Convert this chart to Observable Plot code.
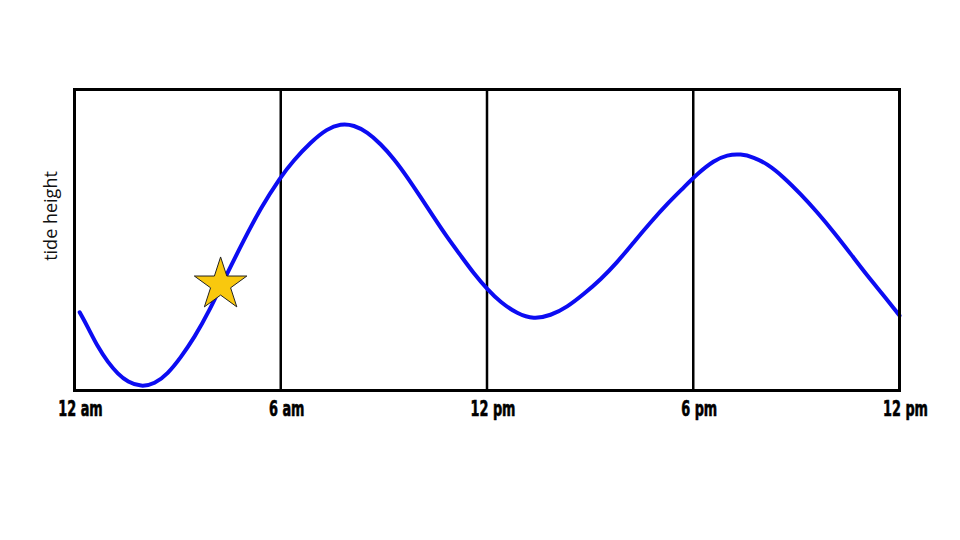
<!DOCTYPE html>
<html>
<head>
<meta charset="utf-8">
<script src="https://cdn.jsdelivr.net/npm/d3@7"></script>
<script src="https://cdn.jsdelivr.net/npm/@observablehq/plot@0.6"></script>
<style>
  html, body { margin: 0; padding: 0; background: #fff; }
  #chart { width: 960px; height: 540px; }
</style>
</head>
<body>
<div id="chart"></div>
<script>
// Tide curve: hour of day (0–24) and relative tide height
const hours = [0.15, 0.39, 0.68, 0.97, 1.26, 1.55, 1.94, 2.33, 2.71, 3.10, 3.49, 3.88, 4.44, 4.92, 5.41, 5.99, 6.37, 6.87, 7.35, 7.74, 8.13, 8.52, 8.90, 9.29, 9.68, 10.07, 10.45, 10.84, 11.23, 11.62, 12.01, 12.39, 12.88, 13.36, 13.85, 14.33, 14.82, 15.30, 15.79, 16.27, 16.76, 17.24, 17.73, 18.12, 18.60, 18.99, 19.38, 19.76, 20.15, 20.63, 21.12, 21.61, 22.09, 22.58, 23.06, 23.54, 24.0];
const heights = [2.60, 2.10, 1.44, 0.94, 0.55, 0.28, 0.12, 0.22, 0.55, 1.11, 1.77, 2.55, 3.89, 4.98, 6.05, 7.09, 7.64, 8.25, 8.70, 8.86, 8.82, 8.58, 8.20, 7.70, 7.09, 6.42, 5.76, 5.09, 4.49, 3.88, 3.36, 2.93, 2.55, 2.37, 2.49, 2.77, 3.21, 3.68, 4.26, 4.93, 5.59, 6.20, 6.75, 7.20, 7.64, 7.83, 7.86, 7.75, 7.53, 7.09, 6.53, 5.92, 5.26, 4.54, 3.82, 3.16, 2.49];

// Star marker
const starHour = [4.25];
const starHeight = [3.52];

// Ticks
const tickHours = [0, 6, 12, 18, 24];
const tickLabels = ["12 am", "6 am", "12 pm", "6 pm", "12 pm"];
const gridHours = [6, 12, 18];

const yLabel = "tide height";

const tide = hours.map((h, i) => ({hour: h, height: heights[i]}));
const star = starHour.map((h, i) => ({hour: h, height: starHeight[i]}));

const chart = Plot.plot({
  width: 960,
  height: 540,
  marginLeft: 74,
  marginRight: 61,
  marginTop: 89,
  marginBottom: 150,
  style: {background: "#fff"},
  x: {domain: [0, 24]},
  y: {domain: [0, 10]},
  marks: [
    Plot.ruleX(gridHours, {stroke: "#000", strokeWidth: 2.5}),
    Plot.line(tide, {x: "hour", y: "height", curve: "basis", stroke: "#0c0cf2", strokeWidth: 4}),
    Plot.dot(star, {x: "hour", y: "height", symbol: "star", r: 16.5, fill: "#f9c80e", stroke: "#222", strokeWidth: 1}),
    Plot.frame({stroke: "#000", strokeWidth: 3}),
    Plot.axisX({
      ticks: tickHours,
      tickFormat: (d) => tickLabels[tickHours.indexOf(d)],
      tickSize: 0,
      tickPadding: 11,
      dx: 6,
      fontSize: 21,
      fontWeight: "bold",
      fontFamily: "'DejaVu Sans Condensed', sans-serif",
      fill: "#000",
      label: null
    }),
    Plot.axisY({ticks: [], label: null}),
    Plot.text([yLabel], {frameAnchor: "left", textAnchor: "middle", rotate: -90, dx: -23.5, dy: -24, fontSize: 18, fontFamily: "'Open Sans', sans-serif", fill: "#111"})
  ]
});
document.getElementById("chart").appendChild(chart);
// Condense and embolden the tick labels (the reference uses a narrow heavy face)
chart.querySelectorAll("g[aria-label='x-axis tick label'] text").forEach((t) => {
  const len = t.getComputedTextLength();
  t.setAttribute("textLength", (len * 0.68).toFixed(1));
  t.setAttribute("lengthAdjust", "spacingAndGlyphs");
  t.setAttribute("stroke", "#000");
  t.setAttribute("stroke-width", "0.6");
});
</script>
</body>
</html>
